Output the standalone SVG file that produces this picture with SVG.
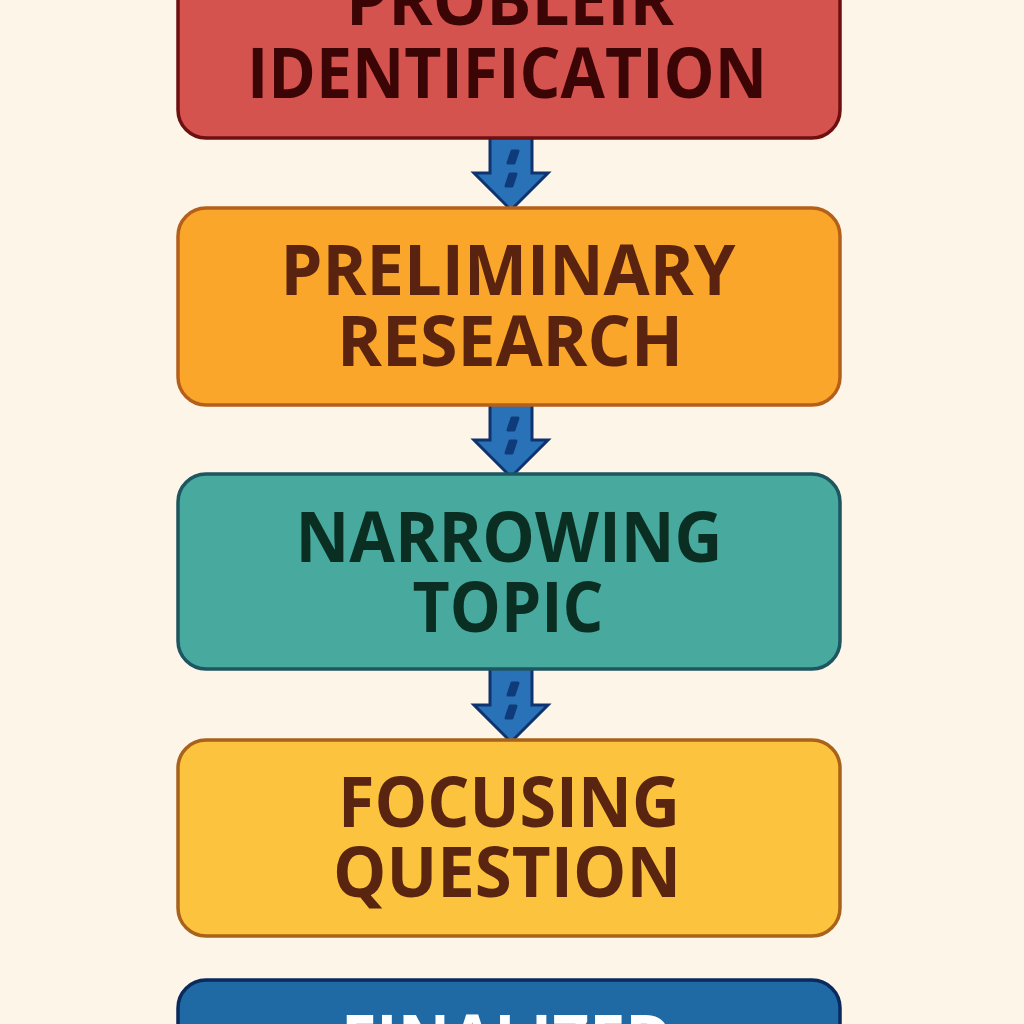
<svg xmlns="http://www.w3.org/2000/svg" width="1024" height="1024" viewBox="0 0 1024 1024">
<defs>
<style>
.box{stroke-width:3.5}
.t{font-family:"Open Sans","Liberation Sans",sans-serif;font-weight:700;font-size:70px;text-anchor:middle}
.arrow{fill:#2a72b8;stroke:#0e336e;stroke-width:3;stroke-linejoin:miter}
.dash{fill:#0f3b7a;stroke:#0f3b7a;stroke-width:3;stroke-linejoin:round}
</style>
<g id="arrowShape">
<path class="arrow" d="M-21,-5 L21,-5 L21,35 L37,35 L0,72 L-37,35 L-21,35 Z"/>
<path class="dash" d="M1,13 L7,13 L3,25 L-3,25 Z"/>
<path class="dash" d="M-1,36 L5,36 L1,48 L-5,48 Z"/>
</g>
</defs>
<rect width="1024" height="1024" fill="#fdf6e8"/>
<g id="connectors">
<use href="#arrowShape" x="511" y="138"/>
<use href="#arrowShape" x="511" y="405"/>
<use href="#arrowShape" x="511" y="670"/>
</g>
<g id="node1">
<rect class="box" x="178" y="-60" width="662" height="198" rx="28" fill="#d4534f" stroke="#6e0f10"/>
<text class="t" x="510" y="25" fill="#3b0505" textLength="328" lengthAdjust="spacingAndGlyphs">PROBLEIR</text>
<text class="t" x="507" y="98" fill="#3b0505" textLength="520" lengthAdjust="spacingAndGlyphs">IDENTIFICATION</text>
</g>
<g id="node2">
<rect class="box" x="178" y="208" width="662" height="197" rx="28" fill="#f9a62a" stroke="#b5601a"/>
<text class="t" x="508" y="295" fill="#5a2310" textLength="455" lengthAdjust="spacingAndGlyphs">PRELIMINARY</text>
<text class="t" x="510" y="366" fill="#5a2310" textLength="346" lengthAdjust="spacingAndGlyphs">RESEARCH</text>
</g>
<g id="node3">
<rect class="box" x="178" y="474" width="662" height="195" rx="28" fill="#48a99e" stroke="#1d5560"/>
<text class="t" x="509" y="562" fill="#0b2e22" textLength="427" lengthAdjust="spacingAndGlyphs">NARROWING</text>
<text class="t" x="508" y="632" fill="#0b2e22" textLength="191" lengthAdjust="spacingAndGlyphs">TOPIC</text>
</g>
<g id="node4">
<rect class="box" x="178" y="740" width="662" height="196" rx="28" fill="#fcc33e" stroke="#a8621a"/>
<text class="t" x="509" y="827" fill="#5a2510" textLength="342" lengthAdjust="spacingAndGlyphs">FOCUSING</text>
<text class="t" x="507" y="897" fill="#5a2510" textLength="348" lengthAdjust="spacingAndGlyphs">QUESTION</text>
</g>
<g id="node5">
<rect class="box" x="178" y="980" width="662" height="196" rx="28" fill="#1f6aa5" stroke="#0a2a5e"/>
<text class="t" x="507" y="1065" fill="#ffffff" textLength="332" lengthAdjust="spacingAndGlyphs">FINALIZED</text>
</g>
</svg>
